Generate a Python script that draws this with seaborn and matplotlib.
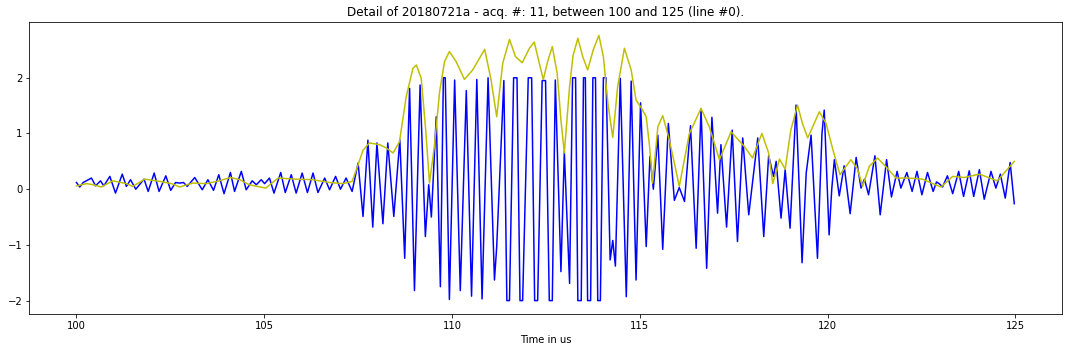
import matplotlib
matplotlib.use("Agg")
import matplotlib.pyplot as plt
import seaborn as sns
import numpy as np

# Blue signal: local extrema (time in us, value)
sig_t = [100.00, 100.09, 100.18, 100.40, 100.51, 100.64, 100.73, 100.89, 101.04, 101.22,
         101.33, 101.44, 101.58, 101.80, 101.91, 102.07, 102.20, 102.38, 102.51, 102.64,
         102.75, 102.85, 102.95, 103.15, 103.35, 103.50, 103.65, 103.79, 103.93, 104.10,
         104.21, 104.39, 104.52, 104.68, 104.79, 104.92, 105.01, 105.14, 105.26, 105.44,
         105.56, 105.72, 105.85, 106.01, 106.15, 106.30, 106.43, 106.61, 106.74, 106.90,
         107.03, 107.18, 107.34, 107.50, 107.63, 107.76, 107.89, 108.00, 108.16, 108.29,
         108.45, 108.61, 108.74, 108.87, 109.00, 109.15, 109.29, 109.38, 109.45, 109.58,
         109.69, 109.77, 109.82, 109.93, 110.07, 110.22, 110.38, 110.52, 110.66, 110.80,
         110.96, 111.13, 111.19, 111.38, 111.46, 111.53, 111.64, 111.73, 111.81, 111.88,
         112.03, 112.12, 112.20, 112.28, 112.40, 112.49, 112.59, 112.67, 112.75, 112.90,
         112.99, 113.13, 113.21, 113.29, 113.35, 113.44, 113.50, 113.55, 113.61, 113.69,
         113.75, 113.82, 113.88, 113.95, 114.03, 114.10, 114.21, 114.28, 114.35, 114.48,
         114.64, 114.77, 114.90, 115.02, 115.17, 115.27, 115.36, 115.48, 115.61, 115.76,
         115.92, 116.05, 116.19, 116.35, 116.50, 116.63, 116.78, 116.92, 117.07, 117.16,
         117.31, 117.46, 117.60, 117.74, 117.90, 118.14, 118.30, 118.43, 118.56, 118.63,
         118.76, 118.87, 119.00, 119.16, 119.32, 119.43, 119.56, 119.73, 119.85, 119.91,
         120.04, 120.11, 120.18, 120.31, 120.44, 120.60, 120.76, 120.89, 120.98, 121.09,
         121.26, 121.40, 121.57, 121.70, 121.85, 121.95, 122.11, 122.25, 122.38, 122.51,
         122.66, 122.81, 122.90, 122.97, 123.06, 123.19, 123.33, 123.49, 123.62, 123.77,
         123.89, 124.04, 124.17, 124.35, 124.48, 124.60, 124.73, 124.86, 124.97]
sig_v = [0.12, 0.04, 0.12, 0.20, 0.06, 0.15, 0.06, 0.23, -0.07, 0.27,
         0.05, 0.17, 0.00, 0.18, -0.04, 0.29, -0.04, 0.24, -0.02, 0.12,
         0.11, 0.12, 0.05, 0.21, -0.01, 0.17, -0.02, 0.26, -0.08, 0.30,
         -0.04, 0.32, -0.01, 0.15, 0.08, 0.17, 0.10, 0.20, -0.07, 0.30,
         -0.06, 0.26, -0.07, 0.29, -0.06, 0.29, -0.06, 0.20, -0.01, 0.23,
         0.00, 0.20, -0.04, 0.47, -0.49, 0.88, -0.68, 0.83, -0.62, 0.83,
         -0.49, 0.89, -1.24, 1.81, -1.82, 1.87, -0.85, 0.08, -0.50, 1.30,
         -1.75, 2.00, 2.00, -1.98, 1.96, -1.82, 1.77, -1.92, 1.97, -1.97,
         2.00, -1.63, -1.03, 1.95, -2.00, -2.00, 2.00, 2.00, -2.00, -2.00,
         2.00, 2.00, -2.00, -2.00, 1.95, 1.95, -2.00, -2.00, 1.96, -1.48,
         0.68, -1.69, 2.00, 2.00, -2.00, -2.00, 2.00, 2.00, -2.00, -2.00,
         2.00, 2.00, -2.00, -2.00, 2.00, 2.00, -1.27, -0.92, -1.38, 1.99,
         -1.93, 1.94, -1.63, 1.55, -1.03, 0.59, 0.00, 0.97, -1.08, 1.18,
         -0.20, 0.03, -0.22, 1.14, -1.06, 1.44, -1.42, 1.29, -0.43, 0.80,
         -0.68, 1.06, -0.94, 0.92, -0.46, 0.92, -0.85, 0.60, 0.23, 0.50,
         -0.52, 0.35, -0.70, 1.51, -1.32, 0.29, 0.97, -1.24, 1.00, 1.42,
         -0.82, 0.00, 0.53, -0.12, 0.42, -0.44, 0.57, 0.02, 0.18, -0.10,
         0.60, -0.46, 0.53, -0.14, 0.32, 0.02, 0.30, -0.04, 0.32, -0.10,
         0.30, -0.04, 0.13, 0.10, 0.04, 0.24, -0.08, 0.32, -0.13, 0.33,
         -0.13, 0.35, -0.18, 0.32, 0.02, 0.27, -0.16, 0.48, -0.26]

# Yellow envelope
env_t = [100.00, 100.27, 100.45, 100.66, 100.97, 101.33, 101.50, 101.82, 102.22, 102.53,
         102.75, 103.10, 103.46, 103.80, 104.10, 104.35, 104.60, 105.04, 105.37, 105.85,
         106.30, 106.74, 107.09, 107.34, 107.47, 107.63, 107.80, 108.07, 108.25, 108.43,
         108.60, 108.78, 108.96, 109.05, 109.18, 109.30, 109.40, 109.53, 109.67, 109.80,
         109.93, 110.11, 110.33, 110.55, 110.87, 111.04, 111.19, 111.35, 111.53, 111.69,
         111.87, 112.06, 112.19, 112.31, 112.43, 112.55, 112.67, 112.80, 112.90, 112.99,
         113.13, 113.22, 113.35, 113.48, 113.61, 113.76, 113.91, 114.03, 114.15, 114.28,
         114.41, 114.59, 114.77, 114.90, 115.03, 115.17, 115.26, 115.34, 115.48, 115.61,
         115.78, 115.92, 116.05, 116.32, 116.63, 116.85, 117.12, 117.43, 117.78, 118.00,
         118.25, 118.43, 118.54, 118.72, 118.87, 119.02, 119.20, 119.33, 119.47, 119.78,
         119.96, 120.14, 120.33, 120.62, 120.80, 120.93, 121.11, 121.33, 121.60, 121.82,
         122.17, 122.53, 122.80, 123.02, 123.33, 123.64, 124.04, 124.52, 124.74, 124.97]
env_v = [0.06, 0.10, 0.08, 0.04, 0.15, 0.10, 0.05, 0.18, 0.14, 0.10,
         0.04, 0.11, 0.10, 0.15, 0.21, 0.17, 0.08, 0.02, 0.20, 0.18,
         0.17, 0.12, 0.10, 0.14, 0.38, 0.70, 0.83, 0.80, 0.74, 0.65,
         0.85, 1.66, 2.17, 2.23, 1.99, 1.06, 0.11, 0.77, 1.75, 2.29,
         2.47, 2.29, 1.97, 2.14, 2.51, 1.96, 1.30, 2.26, 2.69, 2.38,
         2.27, 2.53, 2.64, 2.30, 1.97, 2.30, 2.56, 2.08, 1.24, 0.65,
         1.84, 2.39, 2.71, 2.38, 2.14, 2.50, 2.76, 2.38, 1.54, 0.93,
         1.84, 2.53, 2.14, 1.60, 1.47, 1.30, 0.77, 0.11, 1.12, 1.32,
         0.90, 0.47, 0.05, 1.00, 1.45, 1.12, 0.53, 1.03, 0.77, 0.56,
         1.00, 0.65, 0.10, 0.54, 0.36, 1.06, 1.51, 1.18, 0.92, 1.39,
         1.18, 0.71, 0.26, 0.53, 0.36, 0.05, 0.41, 0.56, 0.37, 0.20,
         0.20, 0.18, 0.10, 0.04, 0.23, 0.21, 0.27, 0.15, 0.32, 0.50]

title = "Detail of 20180721a - acq. #: 11, between 100 and 125 (line #0)."
xlabel = "Time in us"

fig = plt.figure(figsize=(1072 / 72, 352 / 72), dpi=72)
ax = fig.add_axes([0.0275, 0.108, 0.9635, 0.8285])

sns.lineplot(x=sig_t, y=sig_v, ax=ax, color="b", linewidth=1.5,
             sort=False, estimator=None)
sns.lineplot(x=env_t, y=env_v, ax=ax, color="y", linewidth=1.5,
             sort=False, estimator=None)

ax.set_xlim(98.75, 126.25)
ax.set_ylim(-2.24, 2.995)
ax.set_xticks([100, 105, 110, 115, 120, 125])
ax.set_yticks([-2, -1, 0, 1, 2])
ax.set_title(title, fontsize=12)
ax.set_xlabel(xlabel, fontsize=10)
ax.set_ylabel("")

fig.savefig("out.png", dpi=72, facecolor="white")
